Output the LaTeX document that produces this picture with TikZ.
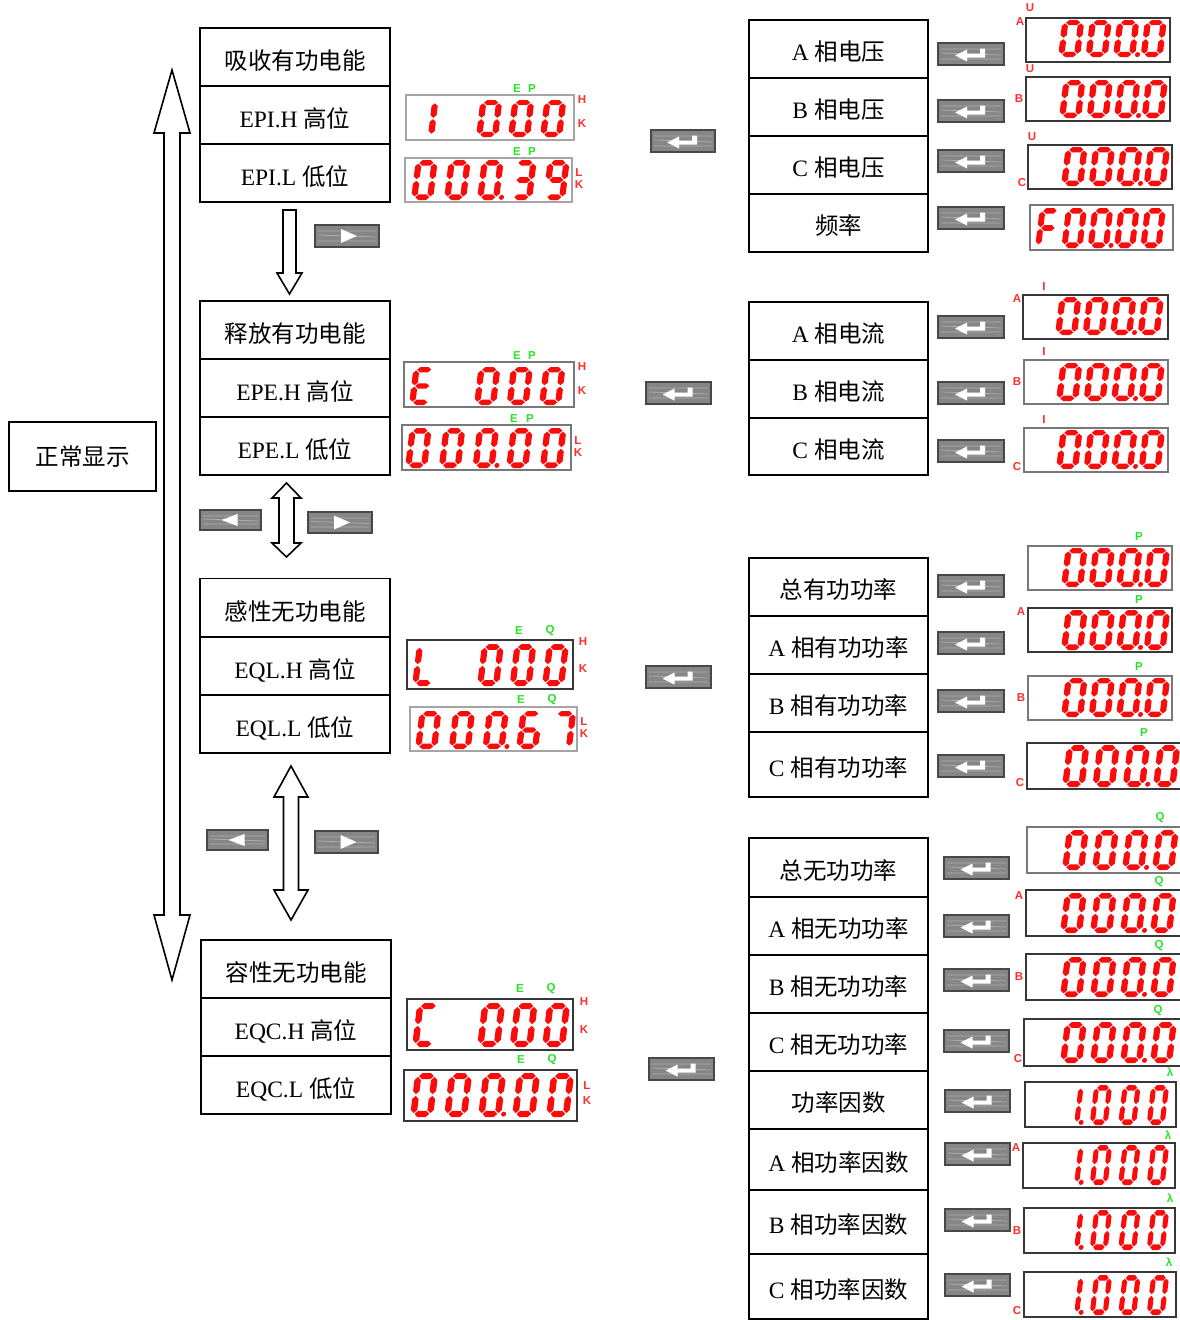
\documentclass[tikz,border=0pt]{standalone}
\usepackage{fontspec}
\setmainfont{Liberation Serif}
\newfontfamily\cjk{Noto Sans CJK SC}
\newfontfamily\lat{Liberation Serif}
\newfontfamily\lab{Liberation Sans}
\definecolor{segred}{RGB}{250,12,12}
\definecolor{lgreen}{RGB}{40,225,40}
\definecolor{lred}{RGB}{255,45,45}
\definecolor{btnfill}{RGB}{134,134,134}
\definecolor{btnline}{RGB}{72,72,72}
\definecolor{bdlight}{RGB}{165,165,165}
\definecolor{bdmid}{RGB}{120,120,120}
\definecolor{bddark}{RGB}{55,55,55}

% seven segment pieces (local grid 10 x 20, y up)
\def\SSa{\fill (1.8,18.6)--(3.2,20)--(6.8,20)--(8.2,18.6)--(6.8,17.2)--(3.2,17.2)--cycle;}
\def\SSg{\fill (1.8,10)--(3.2,11.4)--(6.8,11.4)--(8.2,10)--(6.8,8.6)--(3.2,8.6)--cycle;}
\def\SSd{\fill (1.8,1.4)--(3.2,2.8)--(6.8,2.8)--(8.2,1.4)--(6.8,0)--(3.2,0)--cycle;}
\def\SSb{\fill (8.6,10.4)--(10,11.8)--(10,16.8)--(8.6,18.2)--(7.2,16.8)--(7.2,11.8)--cycle;}
\def\SSc{\fill (8.6,1.8)--(10,3.2)--(10,8.2)--(8.6,9.6)--(7.2,8.2)--(7.2,3.2)--cycle;}
\def\SSf{\fill (1.4,10.4)--(2.8,11.8)--(2.8,16.8)--(1.4,18.2)--(0,16.8)--(0,11.8)--cycle;}
\def\SSe{\fill (1.4,1.8)--(2.8,3.2)--(2.8,8.2)--(1.4,9.6)--(0,8.2)--(0,3.2)--cycle;}
\def\SSp{\fill (11,1.3) circle[radius=2.5pt];}
\def\SSn{}
\expandafter\def\csname DG0\endcsname{a,b,c,d,e,f}
\expandafter\def\csname DG0p\endcsname{a,b,c,d,e,f,p}
\expandafter\def\csname DG1\endcsname{b,c}
\expandafter\def\csname DG1p\endcsname{b,c,p}
\expandafter\def\csname DG3\endcsname{a,b,c,d,g}
\expandafter\def\csname DG6\endcsname{a,c,d,e,f,g}
\expandafter\def\csname DG7\endcsname{a,b,c}
\expandafter\def\csname DG9\endcsname{a,b,c,d,f,g}
\expandafter\def\csname DGE\endcsname{a,d,e,f,g}
\expandafter\def\csname DGL\endcsname{d,e,f}
\expandafter\def\csname DGC\endcsname{a,d,e,f}
\expandafter\def\csname DGF\endcsname{a,e,f,g}
\expandafter\def\csname DGn\endcsname{n}

% #1 x start, #2 y bottom, #3 pitch, #4 x unit, #5 y unit, #6 digits
\newcommand\digrow[6]{%
 \foreach \dgt [count=\dgi from 0] in {#6}{%
  \pgfmathsetmacro\dgx{#1+\dgi*#3}%
  \edef\dgsegs{\csname DG\dgt\endcsname}%
  \begin{scope}[shift={(\dgx,#2)},x=#4pt,y=#5pt,xslant=0.12,color=segred]
   \foreach \sg in \dgsegs {\csname SS\sg\endcsname}
  \end{scope}}}

\newcommand\dbox[3]{\draw[line width=1.5pt,draw=#3] (#1) rectangle (#2);}

\newcommand\keybox[4]{%
 \draw[line width=1.1pt,draw=btnline,fill=btnfill] (#1,#2) rectangle (#3,#4);
 \draw[white,opacity=0.35,line width=0.7pt] ({#1+3},{#2+6}) -- ({#3-3},{#2+6})
   ({#1+3},{#4-6}) -- ({#3-3},{#4-6}) ({#1+3},{(#2+#4)/2-1}) -- ({#3-3},{(#2+#4)/2+1});}
\newcommand\enterkey[4]{%
 \keybox{#1}{#2}{#3}{#4}
 \begin{scope}[shift={({(#1+#3)/2},{(#2+#4)/2})}]
  \fill[white] (-16,1.5)--(-4,-4.5)--(-4,-0.5)--(9,-0.5)--(9,-5.5)--(14,-5.5)--(14,3.5)--(-4,3.5)--(-4,7.5)--cycle;
 \end{scope}}
\newcommand\rightkey[4]{%
 \keybox{#1}{#2}{#3}{#4}
 \fill[white] ({(#1+#3)/2-6},{(#2+#4)/2-7}) -- ({(#1+#3)/2+10},{(#2+#4)/2}) -- ({(#1+#3)/2-6},{(#2+#4)/2+7}) -- cycle;}
\newcommand\leftkey[4]{%
 \keybox{#1}{#2}{#3}{#4}
 \fill[white] ({(#1+#3)/2+7},{(#2+#4)/2-6}) -- ({(#1+#3)/2-9},{(#2+#4)/2}) -- ({(#1+#3)/2+7},{(#2+#4)/2+6}) -- cycle;}

\begin{document}
\begin{tikzpicture}[x=1pt,y=-1pt,
  cell/.style={draw,line width=1.6pt,inner sep=0pt,minimum width=190pt,minimum height=58pt,
     font=\fontsize{23.5pt}{26pt}\selectfont\cjk,text depth=0pt,text height=25pt},
  rcell/.style={cell,minimum width=179pt,text height=23pt},
  hollow/.style={draw,line width=1.6pt,fill=white,line join=miter},
  glab/.style={inner sep=0pt,font=\fontsize{11.5pt}{11.5pt}\selectfont\lab\bfseries,text=lgreen},
  rlab/.style={inner sep=0pt,font=\fontsize{11.5pt}{11.5pt}\selectfont\lab\bfseries,text=lred}]
\fill[white] (0,0) rectangle (1180,1320);
\useasboundingbox (0,0) rectangle (1180,1320);

% ---------- left ----------
\node[cell,minimum width=147pt,minimum height=69pt,text height=19pt,text depth=2pt] (norm) at (82.5,456.5) {正常显示};
\draw[hollow] (172,70) -- (190,133) -- (180,133) -- (180,915) -- (190,915) -- (172,980)
  -- (154,915) -- (164,915) -- (164,133) -- (154,133) -- cycle;

\node[cell] (g1a) at (295,57) {吸收有功电能};
\node[cell] (g1b) at (295,115) {{\lat EPI.H }高位};
\node[cell] (g1c) at (295,173) {{\lat EPI.L }低位};
\node[cell] (g2a) at (295,330) {释放有功电能};
\node[cell] (g2b) at (295,388) {{\lat EPE.H }高位};
\node[cell] (g2c) at (295,446) {{\lat EPE.L }低位};
\node[cell] (g3a) at (295,607.5) {感性无功电能};
\node[cell] (g3b) at (295,666) {{\lat EQL.H }高位};
\node[cell] (g3c) at (295,724) {{\lat EQL.L }低位};
\node[cell] (g4a) at (296,969) {容性无功电能};
\node[cell] (g4b) at (296,1027) {{\lat EQC.H }高位};
\node[cell] (g4c) at (296,1085) {{\lat EQC.L }低位};

\draw[hollow] (283,210) -- (296,210) -- (296,273) -- (302,273) -- (289.5,294) -- (277,273) -- (283,273) -- cycle;
\draw[hollow] (286.5,483) -- (301,498) -- (294,498) -- (294,543) -- (301,543) -- (286.5,557)
  -- (272,543) -- (279,543) -- (279,498) -- (272,498) -- cycle;
\draw[hollow] (291,766) -- (308,797) -- (298.5,797) -- (298.5,890) -- (308,890) -- (291,920)
  -- (274,890) -- (283.5,890) -- (283.5,797) -- (274,797) -- cycle;

\rightkey{315}{225}{379}{247}
\leftkey{200}{510}{261}{530}
\rightkey{308}{512}{372}{533}
\leftkey{207}{830}{268}{850}
\rightkey{315}{831}{378}{853}

% ---------- middle displays ----------
\dbox{406,95}{574,140}{bdlight}
\digrow{412}{137}{32}{2.2}{1.85}{1,n,0,0,0}
\node[glab] (e1) at (517,89) {E}; \node[glab] (p1) at (532,89) {P};
\node[rlab] (h1) at (582,100) {H}; \node[rlab] (k1) at (582,124) {K};

\dbox{405,158}{572,202}{bdlight}
\digrow{411}{200}{33}{2.2}{2.0}{0,0,0p,3,9}
\node[glab] (e2) at (517,152) {E}; \node[glab] (p2) at (532,152) {P};
\node[rlab] (l2) at (579,173) {L}; \node[rlab] (k2) at (579,185) {K};

\dbox{404,362}{574,407}{bdmid}
\digrow{409}{405}{32.5}{2.2}{1.9}{E,n,0,0,0}
\node[glab] (e3) at (517,356) {E}; \node[glab] (p3) at (532,356) {P};
\node[rlab] (h3) at (582,367) {H}; \node[rlab] (k3) at (582,391) {K};

\dbox{402,425}{571,470}{bdmid}
\digrow{405}{468}{33.7}{2.2}{2.0}{0,0,0p,0,0}
\node[glab] (e4) at (514,419) {E}; \node[glab] (p4) at (530,419) {P};
\node[rlab] (l4) at (578,441) {L}; \node[rlab] (k4) at (578,453) {K};

\dbox{407,640}{573,689}{bddark}
\digrow{412}{686}{32.5}{2.2}{2.1}{L,n,0,0,0}
\node[glab] (e5) at (519,631) {E}; \node[glab] (q5) at (550,631) {Q};
\node[rlab] (h5) at (583,642) {H}; \node[rlab] (k5) at (583,669) {K};

\dbox{410,707}{577,751}{bdlight}
\digrow{415}{749}{33.7}{2.2}{1.9}{0,0,0p,6,7}
\node[glab] (e6) at (521,700) {E}; \node[glab] (q6) at (552,700) {Q};
\node[rlab] (l6) at (584,722) {L}; \node[rlab] (k6) at (584,734) {K};

\dbox{407,999}{573,1050}{bddark}
\digrow{412}{1047}{32.5}{2.3}{2.2}{C,n,0,0,0}
\node[glab] (e7) at (520,989) {E}; \node[glab] (q7) at (551,989) {Q};
\node[rlab] (h7) at (584,1002) {H}; \node[rlab] (k7) at (584,1030) {K};

\dbox{404,1070}{577,1121}{bddark}
\digrow{410}{1117}{34}{2.3}{2.2}{0,0,0p,0,0}
\node[glab] (e8) at (521,1060) {E}; \node[glab] (q8) at (552,1060) {Q};
\node[rlab] (l8) at (587,1086) {L}; \node[rlab] (k8) at (587,1101) {K};

\enterkey{651}{130}{715}{152}
\enterkey{646}{382}{711}{404}
\enterkey{646}{666}{711}{688}
\enterkey{649}{1058}{714}{1080}

% ---------- right cells ----------
\node[rcell] (va) at (838.5,49) {{\lat A }相电压};
\node[rcell] (vb) at (838.5,107) {{\lat B }相电压};
\node[rcell] (vc) at (838.5,165) {{\lat C }相电压};
\node[rcell] (fr) at (838.5,223) {频率};
\node[rcell] (ia) at (838.5,331) {{\lat A }相电流};
\node[rcell] (ib) at (838.5,389) {{\lat B }相电流};
\node[rcell,minimum height=57pt] (ic) at (838.5,446.5) {{\lat C }相电流};
\node[rcell] (pt) at (838.5,587) {总有功功率};
\node[rcell] (pa) at (838.5,645) {{\lat A }相有功功率};
\node[rcell] (pb) at (838.5,703) {{\lat B }相有功功率};
\node[rcell,minimum height=65pt] (pc) at (838.5,764.5) {{\lat C }相有功功率};
\node[rcell,minimum height=59pt] (qt) at (838.5,867.5) {总无功功率};
\node[rcell] (qa) at (838.5,926) {{\lat A }相无功功率};
\node[rcell] (qb) at (838.5,984) {{\lat B }相无功功率};
\node[rcell] (qc) at (838.5,1042) {{\lat C }相无功功率};
\node[rcell] (pf) at (838.5,1100) {功率因数};
\node[rcell,minimum height=61pt] (pfa) at (838.5,1159.5) {{\lat A }相功率因数};
\node[rcell,minimum height=64pt] (pfb) at (838.5,1222) {{\lat B }相功率因数};
\node[rcell,minimum height=65pt] (pfc) at (838.5,1286.5) {{\lat C }相功率因数};

% right keys
\enterkey{938}{43}{1004}{65}
\enterkey{938}{100}{1004}{122}
\enterkey{938}{150}{1004}{172}
\enterkey{938}{207}{1004}{229}
\enterkey{938}{316}{1004}{338}
\enterkey{938}{382}{1004}{404}
\enterkey{938}{440}{1004}{462}
\enterkey{938}{575}{1004}{597}
\enterkey{938}{632}{1004}{654}
\enterkey{938}{690}{1004}{712}
\enterkey{938}{755}{1004}{777}
\enterkey{944}{857}{1009}{879}
\enterkey{944}{915}{1009}{937}
\enterkey{944}{969}{1009}{991}
\enterkey{944}{1030}{1009}{1052}
\enterkey{945}{1090}{1010}{1112}
\enterkey{945}{1143}{1010}{1165}
\enterkey{945}{1209}{1010}{1231}
\enterkey{945}{1274}{1010}{1296}

% ---------- right displays ----------
\dbox{1026,18}{1170,62}{bddark}
\digrow{1058}{57}{27.5}{2.2}{1.85}{0,0,0p,0}
\node[rlab] (ua) at (1030,8) {U}; \node[rlab] (xa1) at (1020,22) {A};
\dbox{1026,77}{1170,121}{bddark}
\digrow{1059}{118}{27.5}{2.2}{1.9}{0,0,0p,0}
\node[rlab] (ub) at (1030,69) {U}; \node[rlab] (xb1) at (1019,99) {B};
\dbox{1028,145}{1172,189}{bddark}
\digrow{1061}{186}{27.5}{2.2}{1.95}{0,0,0p,0}
\node[rlab] (uc) at (1032,137) {U}; \node[rlab] (xc1) at (1022,183) {C};
\dbox{1030,205}{1173,250}{bdmid}
\digrow{1035}{248}{26.3}{2.1}{2.0}{F,0,0p,0,0}

\dbox{1023,295}{1168,339}{bddark}
\digrow{1055}{335}{27.5}{2.2}{1.9}{0,0,0p,0}
\node[rlab] (i1) at (1044,287) {I}; \node[rlab] (xa2) at (1017,299) {A};
\dbox{1024,360}{1168,404}{bdmid}
\digrow{1056}{401}{27.5}{2.2}{1.9}{0,0,0p,0}
\node[rlab] (i2) at (1044,352) {I}; \node[rlab] (xb2) at (1017,382) {B};
\dbox{1024,428}{1168,472}{bdmid}
\digrow{1056}{469}{27.5}{2.2}{1.95}{0,0,0p,0}
\node[rlab] (i3) at (1044,420) {I}; \node[rlab] (xc2) at (1017,467) {C};

\dbox{1028,546}{1172,590}{bdmid}
\digrow{1061}{587}{27.5}{2.2}{1.95}{0,0,0p,0}
\node[glab] (pp1) at (1139,537) {P};
\dbox{1028,608}{1172,652}{bddark}
\digrow{1061}{650}{27.5}{2.2}{2.0}{0,0,0p,0}
\node[glab] (pp2) at (1139,600) {P}; \node[rlab] (xa3) at (1021,612) {A};
\dbox{1028,676}{1172,720}{bdmid}
\digrow{1061}{717}{27.5}{2.2}{1.95}{0,0,0p,0}
\node[glab] (pp3) at (1139,667) {P}; \node[rlab] (xb3) at (1021,698) {B};
\dbox{1027,743}{1183,789}{bddark}
\digrow{1062}{787}{30.3}{2.25}{2.1}{0,0,0p,0}
\node[glab] (pp4) at (1144,733) {P}; \node[rlab] (xc3) at (1020,783) {C};

\dbox{1027,827}{1183,873}{bdmid}
\digrow{1062}{870}{30}{2.2}{2.0}{0,0,0p,0}
\node[glab] (qq1) at (1160,818) {Q};
\dbox{1026,890}{1183,936}{bddark}
\digrow{1060}{933}{30}{2.2}{2.0}{0,0,0p,0}
\node[glab] (qq2) at (1159,882) {Q}; \node[rlab] (xa4) at (1019,896) {A};
\dbox{1026,954}{1183,1000}{bddark}
\digrow{1060}{997}{30}{2.2}{2.0}{0,0,0p,0}
\node[glab] (qq3) at (1159,946) {Q}; \node[rlab] (xb4) at (1019,977) {B};
\dbox{1024,1019}{1183,1066}{bddark}
\digrow{1060}{1063}{30}{2.2}{2.05}{0,0,0p,0}
\node[glab] (qq4) at (1158,1011) {Q}; \node[rlab] (xc4) at (1018,1059) {C};

\dbox{1025,1082}{1176,1127}{bddark}
\digrow{1061}{1125}{28.5}{1.8}{2.0}{1p,0,0,0}
\node[glab] (la1) at (1170,1072) {λ};
\dbox{1023,1143}{1175,1188}{bddark}
\digrow{1061}{1185}{28.5}{1.8}{2.0}{1p,0,0,0}
\node[glab] (la2) at (1168,1135) {λ}; \node[rlab] (xa5) at (1016,1148) {A};
\dbox{1024,1208}{1175,1253}{bddark}
\digrow{1061}{1250}{28.5}{1.8}{2.0}{1p,0,0,0}
\node[glab] (la3) at (1170,1198) {λ}; \node[rlab] (xb5) at (1017,1231) {B};
\dbox{1024,1272}{1176,1317}{bddark}
\digrow{1061}{1315}{28.5}{1.8}{2.0}{1p,0,0,0}
\node[glab] (la4) at (1169,1262) {λ}; \node[rlab] (xc5) at (1017,1311) {C};
\end{tikzpicture}
\end{document}
